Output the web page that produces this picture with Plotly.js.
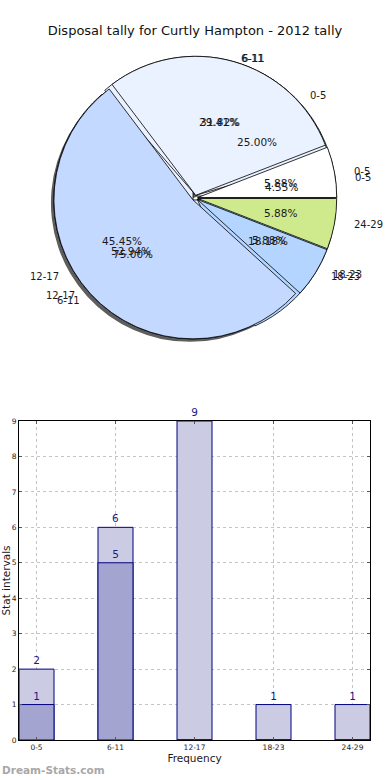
<!DOCTYPE html>
<html>
<head>
<meta charset="utf-8">
<script src="https://cdn.plot.ly/plotly-3.0.1.min.js"></script>
<style>html,body{margin:0;padding:0;background:#fff;}#chart{width:390px;height:780px;}</style>
</head>
<body>
<div id="chart"></div>
<script>
// ---- data ----
const categories = ['0-5', '6-11', '12-17', '18-23', '24-29'];
const pieA = [1, 5, 9, 1, 1];          // top pie (total 17)
const pieB = [1, 7, 10, 4];            // middle pie (total 22)
const pieC = [1, 3];                   // bottom pie (total 4)
const barLight = [2, 6, 9, 1, 1];
const barDark = [1, 5, 0, 0, 0];
const sliceColors = ['#ffffff', '#eaf2ff', '#c4d9ff', '#b3d5ff', '#cfea8c'];

// ---- geometry / style ----
const W = 390, H = 780;
const CX = 195, CY = 198, R = 139, PULL = 0.02;
const RX = 145, RY = 132;  // text placement ellipse
const BOX = 2 * R * (1 + PULL);
const FONT = 'DejaVu Sans, sans-serif';
const TXT = '#1a1a1a';

function dom(dx, dy) {
  return {
    x: [(CX - BOX / 2 + dx) / W, (CX + BOX / 2 + dx) / W],
    y: [1 - (CY + BOX / 2 + dy) / H, 1 - (CY - BOX / 2 + dy) / H]
  };
}

function pieTrace(vals, colors, d, line) {
  const total = vals.reduce((a, b) => a + b, 0);
  // Plotly puts the first slice clockwise of `rotation` when counterclockwise;
  // shift so the first slice starts at 3 o'clock and runs counterclockwise.
  const rot = 90 - 360 * vals[0] / total;
  return {
    type: 'pie',
    values: vals,
    labels: categories.slice(0, vals.length),
    sort: false,
    direction: 'counterclockwise',
    rotation: rot,
    pull: vals.map(() => PULL),
    textinfo: 'none',
    hoverinfo: 'none',
    showlegend: false,
    domain: d,
    marker: {colors: colors, line: line}
  };
}

const edge = {color: '#000', width: 0.8};
const traces = [
  pieTrace(pieA, pieA.map(() => 'rgba(40,40,40,0.75)'), dom(-3, 3), {color: 'rgba(0,0,0,0)', width: 0}),
  pieTrace(pieC, sliceColors.slice(0, pieC.length), dom(0, 0), edge),
  pieTrace(pieB, sliceColors.slice(0, pieB.length), dom(0, 0), edge),
  pieTrace(pieA, sliceColors, dom(0, 0), edge),
  {
    type: 'bar', x: categories, y: barLight, width: 0.443,
    marker: {color: '#cbcce3', line: {color: '#000080', width: 1}},
    text: barLight.map(v => v > 0 ? String(v) : ''),
    textposition: 'outside', cliponaxis: false, constraintext: 'none',
    textfont: {family: FONT, size: 10.5, color: '#1a1a8c'},
    hoverinfo: 'none', showlegend: false
  },
  {
    type: 'bar', x: categories, y: barDark, width: 0.443,
    marker: {color: '#a3a5d0', line: {color: '#000080', width: 1}},
    text: barDark.map(v => v > 0 ? String(v) : ''),
    textposition: 'outside', cliponaxis: false, constraintext: 'none',
    textfont: {family: FONT, size: 10.5, color: '#1a1a8c'},
    hoverinfo: 'none', showlegend: false
  }
];

// pie labels & percentages (matplotlib style placement)
const annotations = [];
function pieText(vals) {
  const total = vals.reduce((a, b) => a + b, 0);
  let start = 0;
  vals.forEach((v, i) => {
    const span = 360 * v / total;
    const mid = (start + span / 2) * Math.PI / 180;
    start += span;
    const c = Math.cos(mid), s = Math.sin(mid);
    annotations.push({
      xref: 'paper', yref: 'paper', showarrow: false,
      x: (CX + 1.1 * RX * c) / W, y: 1 - (CY - 1.1 * RY * s) / H,
      xanchor: c > 0 ? 'left' : 'right', yanchor: 'middle',
      text: categories[i], font: {family: FONT, size: 10, color: TXT}
    });
    annotations.push({
      xref: 'paper', yref: 'paper', showarrow: false,
      x: (CX + 0.6 * RX * c) / W, y: 1 - (CY - 0.6 * RY * s) / H,
      xanchor: 'center', yanchor: 'middle',
      text: (100 * v / total).toFixed(2) + '%', font: {family: FONT, size: 10.5, color: TXT}
    });
  });
}
pieText(pieC);
pieText(pieB);
pieText(pieA);

annotations.push({
  xref: 'paper', yref: 'paper', showarrow: false,
  x: 0, y: 0, xanchor: 'left', yanchor: 'bottom', yshift: 2,
  text: '<b>Dream-Stats.com</b>', font: {family: FONT, size: 10.5, color: '#a8a8a8'}
});

const layout = {
  width: W, height: H,
  margin: {l: 0, r: 0, t: 0, b: 0},
  paper_bgcolor: '#fff', plot_bgcolor: '#fff',
  barmode: 'overlay',
  title: {
    text: 'Disposal tally for Curtly Hampton - 2012 tally',
    x: 0.5, xanchor: 'center', y: 1 - 30 / H, yanchor: 'middle', yref: 'paper',
    font: {family: FONT, size: 13, color: '#111'}
  },
  xaxis: {
    domain: [19 / W, 370 / W],
    type: 'category',
    range: [-0.2215, 4.2215],
    showline: true, linecolor: '#000', linewidth: 1, mirror: 'ticks',
    ticks: 'inside', ticklen: 3, tickcolor: '#555',
    showgrid: true, gridcolor: '#c4c4c4', griddash: 'dot', gridwidth: 1,
    tickfont: {family: FONT, size: 7.5, color: '#222'},
    title: {text: 'Frequency', standoff: 3, font: {family: FONT, size: 10.5, color: TXT}},
    zeroline: false, fixedrange: true
  },
  yaxis: {
    domain: [1 - 740 / H, 1 - 421 / H],
    range: [0, 9], dtick: 1, tick0: 0,
    showline: true, linecolor: '#000', linewidth: 1, mirror: 'ticks',
    ticks: 'inside', ticklen: 3, tickcolor: '#555',
    showgrid: true, gridcolor: '#c4c4c4', griddash: 'dot', gridwidth: 1,
    tickfont: {family: FONT, size: 7.5, color: '#222'},
    title: {text: 'Stat intervals', standoff: 2, font: {family: FONT, size: 10.5, color: TXT}},
    zeroline: false, fixedrange: true
  },
  annotations: annotations
};

Plotly.newPlot('chart', traces, layout, {displayModeBar: false, staticPlot: true});
</script>
</body>
</html>
